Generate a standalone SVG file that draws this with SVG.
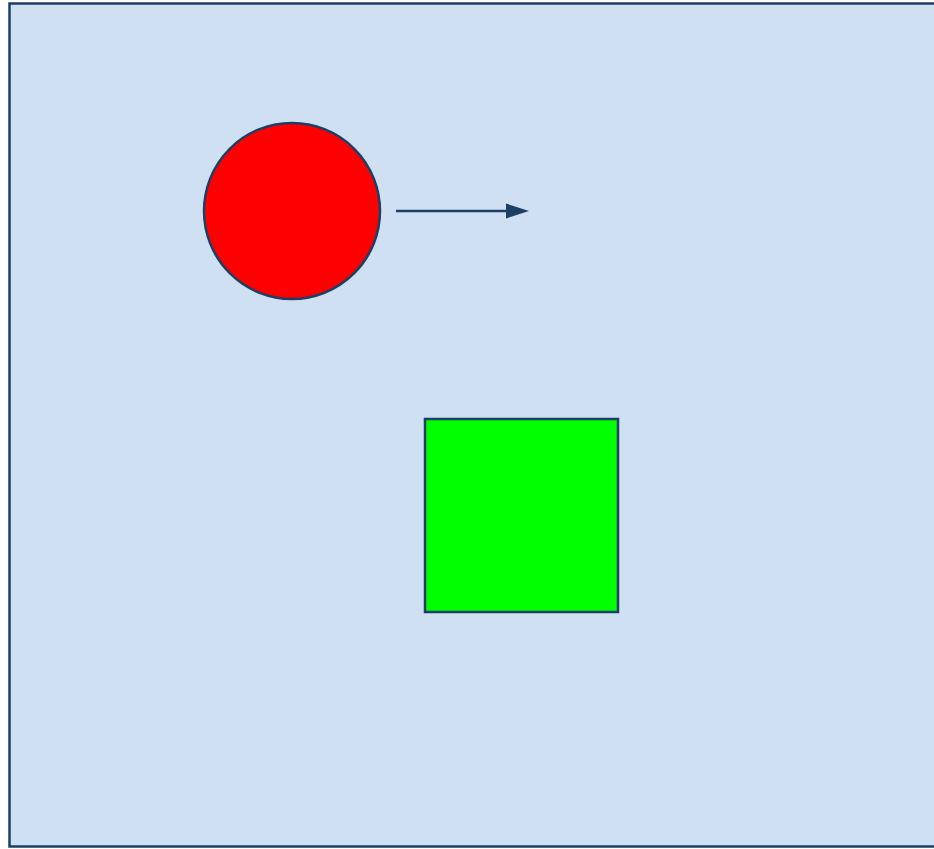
<svg xmlns="http://www.w3.org/2000/svg" width="934" height="849" viewBox="0 0 934 849">
  <style>
    .stk { stroke: #1c3f66; stroke-width: 2.5; }
  </style>
  <defs>
    <marker id="arrow" viewBox="0 0 10 10" refX="10" refY="5" markerWidth="8" markerHeight="6" markerUnits="userSpaceOnUse" orient="auto">
      <path d="M0,0 L10,5 L0,10 z" fill="#1c3f66"/>
    </marker>
  </defs>
  <rect width="934" height="849" fill="#ffffff"/>
  <g id="background">
    <rect x="9.5" y="3.5" width="930" height="843" fill="#cfe0f2" class="stk"/>
  </g>
  <g id="circle">
    <circle cx="292" cy="211" r="88" fill="#ff0000" class="stk"/>
  </g>
  <g id="square">
    <rect x="425" y="419" width="193" height="193" fill="#00ff00" class="stk"/>
  </g>
  <g id="connectors">
    <line x1="396" y1="211" x2="507" y2="211" class="stk" stroke-width="3"/>
    <path d="M506,203.5 L529,211 L506,218.5 z" fill="#1c3f66"/>
  </g>
</svg>
